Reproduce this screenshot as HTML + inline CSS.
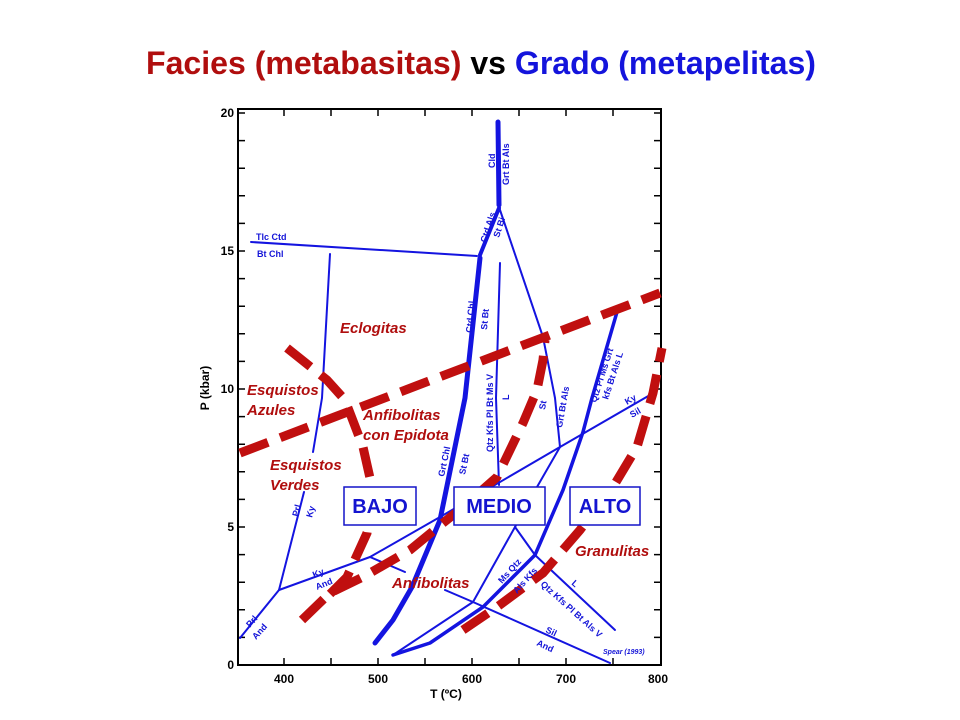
<!DOCTYPE html>
<html><head><meta charset="utf-8"><style>
html,body{margin:0;padding:0;background:#fff;width:960px;height:720px;overflow:hidden}
svg{display:block}
.r{fill:#b00e0e;font:italic bold 15px "Liberation Sans",sans-serif}
.b{fill:#1414d8;font:bold 9px "Liberation Sans",sans-serif}
.t{font:bold 12px "Liberation Sans",sans-serif;fill:#000}
</style></head><body>
<svg width="960" height="720" viewBox="0 0 960 720" xmlns="http://www.w3.org/2000/svg">
<text x="146" y="74" textLength="670" lengthAdjust="spacingAndGlyphs" style="font:bold 32px 'Liberation Sans',sans-serif"><tspan fill="#b00e0e">Facies (metabasitas)</tspan><tspan fill="#000"> vs </tspan><tspan fill="#1414dc">Grado (metapelitas)</tspan></text>
<!-- frame -->
<rect x="238" y="109" width="423" height="556" fill="none" stroke="#000" stroke-width="2"/>
<g stroke="#000" stroke-width="1.5">
<path d="M284 665v-7M331 665v-7M378 665v-7M425 665v-7M472 665v-7M519 665v-7M566 665v-7M613 665v-7M284 109v7M331 109v7M378 109v7M425 109v7M472 109v7M519 109v7M566 109v7M613 109v7"/>
<path id="yt" d="M238 637.4h7M238 609.8h7M238 582.2h7M238 554.6h7M238 527h7M238 499.4h7M238 471.8h7M238 444.2h7M238 416.6h7M238 389h7M238 361.4h7M238 333.8h7M238 306.2h7M238 278.6h7M238 251h7M238 223.4h7M238 195.8h7M238 168.2h7M238 140.6h7M238 113h7"/>
<use href="#yt" transform="translate(899,0) scale(-1,1)"/>
</g>
<g class="t" text-anchor="end"><text x="234" y="669">0</text><text x="234" y="531">5</text><text x="234" y="393">10</text><text x="234" y="255">15</text><text x="234" y="117">20</text></g>
<g class="t" text-anchor="middle"><text x="284" y="683">400</text><text x="378" y="683">500</text><text x="472" y="683">600</text><text x="566" y="683">700</text><text x="658" y="683">800</text>
<text x="446" y="698">T (ºC)</text>
<text transform="translate(209,388) rotate(-90)">P (kbar)</text></g>

<!-- blue lines -->
<g fill="none" stroke="#1414e0" stroke-linecap="round" stroke-linejoin="round">
<path d="M498 122L499 205" stroke-width="5"/>
<path d="M499 208L480 255" stroke-width="4"/>
<path d="M480 258L465 398L440 520L412 587L393 620L375 643" stroke-width="5"/>
<path d="M251 242L477 256" stroke-width="2"/>
<path d="M330 254L322 398L313 452" stroke-width="2"/>
<path d="M304 492L279 590L240 638" stroke-width="2"/>
<path d="M279 590L370 557L440 517L560 447L650 395" stroke-width="2"/>
<path d="M370 557L405 572" stroke-width="2"/>
<path d="M445 590L473 602L610 663" stroke-width="2"/>
<path d="M500 263L496 398L499 485" stroke-width="2"/>
<path d="M499 207L543 337L555 398L560 447" stroke-width="2"/>
<path d="M560 447L537 487L515 527L473 602L393 655" stroke-width="2"/>
<path d="M515 527L535 555L615 630" stroke-width="2"/>
<path d="M617 312L592 398L583 432L563 490L535 555L483 607L430 643L393 655" stroke-width="3.5"/>
</g>
<!-- red dashed -->
<g fill="none" stroke="#c00f0f" stroke-width="9" stroke-dasharray="30 13">
<path d="M240 453L660 293"/>
<path d="M287 348L327 380L345 400L363 447L372 487L367 533L347 577L327 597"/>
<path d="M302 620L330 593L363 577L410 550L443 523L463 507L497 477L523 423L537 390L543 360L545 340"/>
<path d="M463 630L497 607L543 573L580 530L613 487L637 447L653 393L662 348"/>
</g>
<!-- boxes -->
<g fill="#fff" stroke="#1414c8" stroke-width="1.5">
<rect x="344" y="487" width="72" height="38"/><rect x="454" y="487" width="91" height="38"/><rect x="570" y="487" width="70" height="38"/>
</g>
<g fill="#1414d0" style="font:bold 20px 'Liberation Sans',sans-serif" text-anchor="middle">
<text x="380" y="513">BAJO</text><text x="499" y="513">MEDIO</text><text x="605" y="513">ALTO</text></g>
<!-- red labels -->
<g class="r"><text x="340" y="333">Eclogitas</text><text x="247" y="395">Esquistos</text><text x="247" y="415">Azules</text>
<text x="363" y="420">Anfibolitas</text><text x="363" y="440">con Epidota</text>
<text x="270" y="470">Esquistos</text><text x="270" y="490">Verdes</text>
<text x="392" y="588">Anfibolitas</text><text x="575" y="556">Granulitas</text></g>
<!-- blue labels -->
<g class="b">
<text x="256" y="240">Tlc Ctd</text><text x="257" y="257">Bt Chl</text>
<text transform="translate(495,168) rotate(-90)">Cld</text>
<text transform="translate(509,185) rotate(-90)">Grt Bt Als</text>
<text transform="translate(486,243) rotate(-72)">Ctd Als</text>
<text transform="translate(499,238) rotate(-72)">St Bi</text>
<text transform="translate(472,333) rotate(-85)">Ctd Chl</text>
<text transform="translate(487,330) rotate(-85)">St Bt</text>
<text transform="translate(493,452) rotate(-90)">Qtz Kfs Pl Bt Ms V</text>
<text transform="translate(509,400) rotate(-90)">L</text>
<text transform="translate(545,410) rotate(-80)">St</text>
<text transform="translate(562,428) rotate(-80)">Grt Bt Als</text>
<text transform="translate(596,403) rotate(-72)">Qtz Pl Ms Grt</text>
<text transform="translate(608,400) rotate(-72)">kfs Bt Als L</text>
<text transform="translate(627,405) rotate(-30)">Ky</text>
<text transform="translate(632,418) rotate(-30)">Sil</text>
<text transform="translate(444,477) rotate(-78)">Grt Chl</text>
<text transform="translate(465,475) rotate(-78)">St Bt</text>
<text transform="translate(298,517) rotate(-75)">Prl</text>
<text transform="translate(312,518) rotate(-75)">Ky</text>
<text transform="translate(314,578) rotate(-22)">Ky</text>
<text transform="translate(317,590) rotate(-22)">And</text>
<text transform="translate(250,628) rotate(-48)">Prl</text>
<text transform="translate(256,640) rotate(-48)">And</text>
<text transform="translate(502,584) rotate(-48)">Ms Qtz</text>
<text transform="translate(517,594) rotate(-48)">Als Kfs</text>
<text transform="translate(540,585) rotate(42)">Qtz Kfs Pl Bt Als V</text>
<text transform="translate(571,584) rotate(42)">L</text>
<text transform="translate(545,632) rotate(25)">Sil</text>
<text transform="translate(536,645) rotate(25)">And</text>
<text x="603" y="654" style="font:italic bold 7px 'Liberation Sans',sans-serif">Spear (1993)</text>
</g>
</svg>
</body></html>
